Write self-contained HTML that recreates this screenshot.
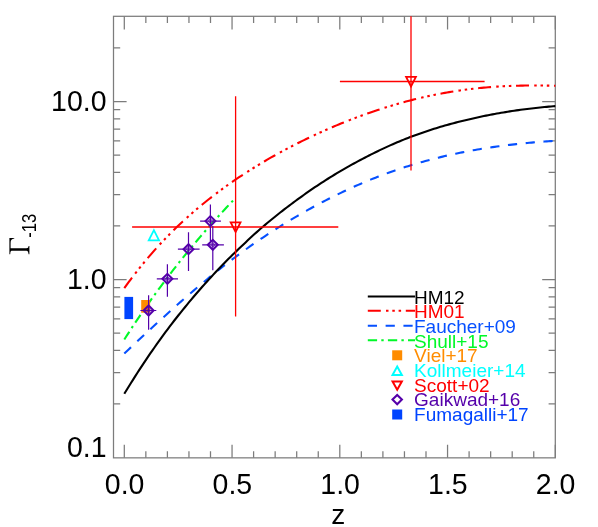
<!DOCTYPE html>
<html><head><meta charset="utf-8"><style>
html,body{margin:0;padding:0;background:#fff;}
svg{display:block;font-family:"Liberation Sans",sans-serif;will-change:transform;}
</style></head><body>
<svg width="598" height="527" viewBox="0 0 598 527">
<rect width="598" height="527" fill="#fff"/>
<rect x="113.5" y="16.3" width="441.79999999999995" height="441.55" fill="none" stroke="#7c7c7c" stroke-width="1.25"/>
<path d="M124.30,457.85 v-13.1 M124.30,16.3 v13.1 M145.85,457.85 v-6.7 M145.85,16.3 v6.7 M167.40,457.85 v-6.7 M167.40,16.3 v6.7 M188.95,457.85 v-6.7 M188.95,16.3 v6.7 M210.50,457.85 v-6.7 M210.50,16.3 v6.7 M232.05,457.85 v-13.1 M232.05,16.3 v13.1 M253.60,457.85 v-6.7 M253.60,16.3 v6.7 M275.15,457.85 v-6.7 M275.15,16.3 v6.7 M296.70,457.85 v-6.7 M296.70,16.3 v6.7 M318.25,457.85 v-6.7 M318.25,16.3 v6.7 M339.80,457.85 v-13.1 M339.80,16.3 v13.1 M361.35,457.85 v-6.7 M361.35,16.3 v6.7 M382.90,457.85 v-6.7 M382.90,16.3 v6.7 M404.45,457.85 v-6.7 M404.45,16.3 v6.7 M426.00,457.85 v-6.7 M426.00,16.3 v6.7 M447.55,457.85 v-13.1 M447.55,16.3 v13.1 M469.10,457.85 v-6.7 M469.10,16.3 v6.7 M490.65,457.85 v-6.7 M490.65,16.3 v6.7 M512.20,457.85 v-6.7 M512.20,16.3 v6.7 M533.75,457.85 v-6.7 M533.75,16.3 v6.7 M555.30,457.85 v-13.1 M555.30,16.3 v13.1 M113.5,403.92 h6.7 M555.3,403.92 h-6.7 M113.5,372.57 h6.7 M555.3,372.57 h-6.7 M113.5,350.33 h6.7 M555.3,350.33 h-6.7 M113.5,333.08 h6.7 M555.3,333.08 h-6.7 M113.5,318.99 h6.7 M555.3,318.99 h-6.7 M113.5,307.07 h6.7 M555.3,307.07 h-6.7 M113.5,296.75 h6.7 M555.3,296.75 h-6.7 M113.5,287.64 h6.7 M555.3,287.64 h-6.7 M113.5,279.50 h13.1 M555.3,279.50 h-13.1 M113.5,225.92 h6.7 M555.3,225.92 h-6.7 M113.5,194.57 h6.7 M555.3,194.57 h-6.7 M113.5,172.33 h6.7 M555.3,172.33 h-6.7 M113.5,155.08 h6.7 M555.3,155.08 h-6.7 M113.5,140.99 h6.7 M555.3,140.99 h-6.7 M113.5,129.07 h6.7 M555.3,129.07 h-6.7 M113.5,118.75 h6.7 M555.3,118.75 h-6.7 M113.5,109.64 h6.7 M555.3,109.64 h-6.7 M113.5,101.50 h13.1 M555.3,101.50 h-13.1 M113.5,47.92 h6.7 M555.3,47.92 h-6.7" stroke="#7c7c7c" stroke-width="1.25" fill="none"/>
<path d="M124.30,339.53 L126.53,336.03 L128.75,332.58 L130.98,329.15 L133.20,325.76 L135.43,322.41 L137.65,319.08 L139.88,315.79 L142.10,312.53 L144.33,309.30 L146.55,306.10 L148.78,302.93 L151.00,299.79 L153.23,296.68 L155.46,293.60 L157.68,290.54 L159.91,287.52 L162.13,284.52 L164.36,281.54 L166.58,278.59 L168.81,275.67 L171.03,272.77 L173.26,269.90 L175.48,267.04 L177.71,264.22 L179.93,261.42 L182.16,258.63 L184.38,255.88 L186.61,253.14 L188.84,250.43 L191.06,247.74 L193.29,245.06 L195.51,242.41 L197.74,239.78 L199.96,237.17 L202.19,234.58 L204.41,232.01 L206.64,229.46 L208.86,226.93 L211.09,224.42 L213.31,221.92 L215.54,219.45 L217.77,216.99 L219.99,214.55 L222.22,212.12 L224.44,209.72 L226.67,207.33 L228.89,204.95 L231.12,202.60 L233.34,200.26" stroke="#00f828" stroke-width="2.1" fill="none" stroke-dasharray="9.3 4.2 2.4 4.2"/>
<path d="M124.30,353.49 L126.47,351.45 L128.63,349.42 L130.80,347.39 L132.96,345.36 L135.13,343.34 L137.29,341.32 L139.46,339.30 L141.63,337.28 L143.79,335.27 L145.96,333.26 L148.12,331.26 L150.29,329.26 L152.46,327.27 L154.62,325.28 L156.79,323.30 L158.95,321.32 L161.12,319.35 L163.28,317.38 L165.45,315.42 L167.62,313.46 L169.78,311.52 L171.95,309.58 L174.11,307.64 L176.28,305.72 L178.45,303.80 L180.61,301.89 L182.78,299.99 L184.94,298.10 L187.11,296.21 L189.27,294.34 L191.44,292.47 L193.61,290.62 L195.77,288.77 L197.94,286.93 L200.10,285.11 L202.27,283.29 L204.44,281.48 L206.60,279.69 L208.77,277.91 L210.93,276.14 L213.10,274.38 L215.26,272.63 L217.43,270.89 L219.60,269.17 L221.76,267.46 L223.93,265.76 L226.09,264.08 L228.26,262.41 L230.43,260.75 L232.59,259.11 L234.76,257.48 L236.92,255.86 L239.09,254.26 L241.25,252.67 L243.42,251.10 L245.59,249.54 L247.75,247.99 L249.92,246.46 L252.08,244.94 L254.25,243.43 L256.42,241.94 L258.58,240.46 L260.75,238.99 L262.91,237.53 L265.08,236.09 L267.24,234.66 L269.41,233.24 L271.58,231.83 L273.74,230.44 L275.91,229.06 L278.07,227.68 L280.24,226.33 L282.41,224.98 L284.57,223.64 L286.74,222.31 L288.90,221.00 L291.07,219.70 L293.23,218.41 L295.40,217.12 L297.57,215.85 L299.73,214.60 L301.90,213.35 L304.06,212.11 L306.23,210.89 L308.40,209.67 L310.56,208.47 L312.73,207.28 L314.89,206.10 L317.06,204.93 L319.22,203.78 L321.39,202.63 L323.56,201.50 L325.72,200.37 L327.89,199.26 L330.05,198.16 L332.22,197.07 L334.39,195.99 L336.55,194.92 L338.72,193.87 L340.88,192.82 L343.05,191.79 L345.21,190.77 L347.38,189.76 L349.55,188.76 L351.71,187.77 L353.88,186.80 L356.04,185.83 L358.21,184.88 L360.38,183.94 L362.54,183.01 L364.71,182.09 L366.87,181.18 L369.04,180.29 L371.20,179.40 L373.37,178.53 L375.54,177.67 L377.70,176.82 L379.87,175.98 L382.03,175.16 L384.20,174.34 L386.37,173.54 L388.53,172.75 L390.70,171.97 L392.86,171.20 L395.03,170.45 L397.19,169.70 L399.36,168.97 L401.53,168.25 L403.69,167.54 L405.86,166.84 L408.02,166.15 L410.19,165.47 L412.36,164.81 L414.52,164.15 L416.69,163.51 L418.85,162.88 L421.02,162.26 L423.18,161.64 L425.35,161.04 L427.52,160.45 L429.68,159.87 L431.85,159.30 L434.01,158.74 L436.18,158.19 L438.35,157.65 L440.51,157.13 L442.68,156.61 L444.84,156.09 L447.01,155.59 L449.17,155.10 L451.34,154.62 L453.51,154.15 L455.67,153.69 L457.84,153.23 L460.00,152.79 L462.17,152.35 L464.34,151.93 L466.50,151.51 L468.67,151.10 L470.83,150.70 L473.00,150.31 L475.16,149.92 L477.33,149.55 L479.50,149.18 L481.66,148.82 L483.83,148.47 L485.99,148.13 L488.16,147.79 L490.33,147.47 L492.49,147.15 L494.66,146.84 L496.82,146.53 L498.99,146.23 L501.15,145.95 L503.32,145.66 L505.49,145.39 L507.65,145.12 L509.82,144.86 L511.98,144.60 L514.15,144.36 L516.32,144.12 L518.48,143.88 L520.65,143.65 L522.81,143.43 L524.98,143.22 L527.14,143.01 L529.31,142.81 L531.48,142.61 L533.64,142.42 L535.81,142.24 L537.97,142.06 L540.14,141.88 L542.31,141.72 L544.47,141.55 L546.64,141.40 L548.80,141.25 L550.97,141.10 L553.13,140.96 L555.30,140.82" stroke="#0650ff" stroke-width="2.1" fill="none" stroke-dasharray="9.2 8.62"/>
<path d="M124.30,288.16 L126.47,285.16 L128.63,282.20 L130.80,279.29 L132.96,276.43 L135.13,273.61 L137.29,270.84 L139.46,268.11 L141.63,265.43 L143.79,262.79 L145.96,260.18 L148.12,257.62 L150.29,255.10 L152.46,252.62 L154.62,250.17 L156.79,247.76 L158.95,245.39 L161.12,243.05 L163.28,240.75 L165.45,238.48 L167.62,236.25 L169.78,234.04 L171.95,231.87 L174.11,229.73 L176.28,227.62 L178.45,225.55 L180.61,223.50 L182.78,221.48 L184.94,219.48 L187.11,217.52 L189.27,215.58 L191.44,213.67 L193.61,211.78 L195.77,209.92 L197.94,208.08 L200.10,206.27 L202.27,204.48 L204.44,202.71 L206.60,200.97 L208.77,199.25 L210.93,197.55 L213.10,195.87 L215.26,194.21 L217.43,192.57 L219.60,190.96 L221.76,189.36 L223.93,187.78 L226.09,186.22 L228.26,184.68 L230.43,183.15 L232.59,181.65 L234.76,180.16 L236.92,178.69 L239.09,177.23 L241.25,175.79 L243.42,174.37 L245.59,172.96 L247.75,171.57 L249.92,170.20 L252.08,168.84 L254.25,167.49 L256.42,166.16 L258.58,164.84 L260.75,163.53 L262.91,162.24 L265.08,160.97 L267.24,159.70 L269.41,158.45 L271.58,157.21 L273.74,155.99 L275.91,154.78 L278.07,153.57 L280.24,152.39 L282.41,151.21 L284.57,150.05 L286.74,148.89 L288.90,147.75 L291.07,146.62 L293.23,145.50 L295.40,144.40 L297.57,143.30 L299.73,142.22 L301.90,141.14 L304.06,140.08 L306.23,139.03 L308.40,137.98 L310.56,136.95 L312.73,135.93 L314.89,134.92 L317.06,133.92 L319.22,132.93 L321.39,131.95 L323.56,130.98 L325.72,130.02 L327.89,129.07 L330.05,128.13 L332.22,127.20 L334.39,126.28 L336.55,125.38 L338.72,124.48 L340.88,123.59 L343.05,122.71 L345.21,121.84 L347.38,120.98 L349.55,120.13 L351.71,119.29 L353.88,118.46 L356.04,117.64 L358.21,116.83 L360.38,116.03 L362.54,115.24 L364.71,114.46 L366.87,113.69 L369.04,112.93 L371.20,112.18 L373.37,111.44 L375.54,110.72 L377.70,110.00 L379.87,109.29 L382.03,108.59 L384.20,107.90 L386.37,107.22 L388.53,106.55 L390.70,105.90 L392.86,105.25 L395.03,104.61 L397.19,103.98 L399.36,103.37 L401.53,102.76 L403.69,102.17 L405.86,101.58 L408.02,101.01 L410.19,100.44 L412.36,99.89 L414.52,99.35 L416.69,98.81 L418.85,98.29 L421.02,97.78 L423.18,97.28 L425.35,96.79 L427.52,96.32 L429.68,95.85 L431.85,95.39 L434.01,94.94 L436.18,94.51 L438.35,94.08 L440.51,93.67 L442.68,93.27 L444.84,92.87 L447.01,92.49 L449.17,92.12 L451.34,91.76 L453.51,91.41 L455.67,91.08 L457.84,90.75 L460.00,90.43 L462.17,90.12 L464.34,89.83 L466.50,89.54 L468.67,89.27 L470.83,89.00 L473.00,88.75 L475.16,88.51 L477.33,88.27 L479.50,88.05 L481.66,87.84 L483.83,87.64 L485.99,87.44 L488.16,87.26 L490.33,87.09 L492.49,86.93 L494.66,86.77 L496.82,86.63 L498.99,86.50 L501.15,86.37 L503.32,86.25 L505.49,86.15 L507.65,86.05 L509.82,85.96 L511.98,85.88 L514.15,85.81 L516.32,85.75 L518.48,85.69 L520.65,85.64 L522.81,85.60 L524.98,85.57 L527.14,85.54 L529.31,85.52 L531.48,85.51 L533.64,85.51 L535.81,85.51 L537.97,85.52 L540.14,85.53 L542.31,85.55 L544.47,85.57 L546.64,85.60 L548.80,85.64 L550.97,85.68 L553.13,85.72 L555.30,85.76" stroke="#ff0000" stroke-width="2.1" fill="none" stroke-dasharray="13 5.2 2.5 3.8 2.5 3.8 2.5 4.7"/>
<path d="M124.30,393.79 L126.47,390.27 L128.63,386.77 L130.80,383.30 L132.96,379.85 L135.13,376.43 L137.29,373.04 L139.46,369.68 L141.63,366.36 L143.79,363.07 L145.96,359.83 L148.12,356.62 L150.29,353.46 L152.46,350.33 L154.62,347.23 L156.79,344.17 L158.95,341.13 L161.12,338.11 L163.28,335.13 L165.45,332.18 L167.62,329.26 L169.78,326.39 L171.95,323.56 L174.11,320.76 L176.28,318.00 L178.45,315.27 L180.61,312.57 L182.78,309.89 L184.94,307.22 L187.11,304.58 L189.27,301.95 L191.44,299.35 L193.61,296.78 L195.77,294.24 L197.94,291.73 L200.10,289.26 L202.27,286.81 L204.44,284.39 L206.60,281.98 L208.77,279.60 L210.93,277.23 L213.10,274.87 L215.26,272.53 L217.43,270.21 L219.60,267.91 L221.76,265.64 L223.93,263.41 L226.09,261.21 L228.26,259.04 L230.43,256.91 L232.59,254.80 L234.76,252.71 L236.92,250.63 L239.09,248.57 L241.25,246.51 L243.42,244.45 L245.59,242.40 L247.75,240.35 L249.92,238.33 L252.08,236.32 L254.25,234.33 L256.42,232.37 L258.58,230.45 L260.75,228.55 L262.91,226.68 L265.08,224.84 L267.24,223.03 L269.41,221.23 L271.58,219.46 L273.74,217.70 L275.91,215.97 L278.07,214.24 L280.24,212.54 L282.41,210.84 L284.57,209.17 L286.74,207.51 L288.90,205.86 L291.07,204.23 L293.23,202.61 L295.40,201.01 L297.57,199.42 L299.73,197.85 L301.90,196.29 L304.06,194.74 L306.23,193.21 L308.40,191.70 L310.56,190.20 L312.73,188.71 L314.89,187.24 L317.06,185.79 L319.22,184.35 L321.39,182.92 L323.56,181.52 L325.72,180.13 L327.89,178.75 L330.05,177.39 L332.22,176.05 L334.39,174.73 L336.55,173.42 L338.72,172.13 L340.88,170.85 L343.05,169.59 L345.21,168.34 L347.38,167.11 L349.55,165.89 L351.71,164.69 L353.88,163.50 L356.04,162.32 L358.21,161.15 L360.38,160.00 L362.54,158.86 L364.71,157.73 L366.87,156.62 L369.04,155.51 L371.20,154.42 L373.37,153.34 L375.54,152.27 L377.70,151.21 L379.87,150.17 L382.03,149.14 L384.20,148.12 L386.37,147.12 L388.53,146.13 L390.70,145.15 L392.86,144.20 L395.03,143.25 L397.19,142.33 L399.36,141.41 L401.53,140.52 L403.69,139.64 L405.86,138.78 L408.02,137.93 L410.19,137.10 L412.36,136.28 L414.52,135.47 L416.69,134.68 L418.85,133.91 L421.02,133.14 L423.18,132.39 L425.35,131.66 L427.52,130.93 L429.68,130.22 L431.85,129.53 L434.01,128.84 L436.18,128.17 L438.35,127.51 L440.51,126.86 L442.68,126.22 L444.84,125.59 L447.01,124.98 L449.17,124.37 L451.34,123.78 L453.51,123.20 L455.67,122.62 L457.84,122.06 L460.00,121.51 L462.17,120.97 L464.34,120.44 L466.50,119.92 L468.67,119.40 L470.83,118.90 L473.00,118.41 L475.16,117.93 L477.33,117.45 L479.50,116.99 L481.66,116.53 L483.83,116.08 L485.99,115.65 L488.16,115.22 L490.33,114.79 L492.49,114.38 L494.66,113.98 L496.82,113.58 L498.99,113.20 L501.15,112.82 L503.32,112.45 L505.49,112.09 L507.65,111.74 L509.82,111.39 L511.98,111.05 L514.15,110.73 L516.32,110.41 L518.48,110.10 L520.65,109.80 L522.81,109.50 L524.98,109.22 L527.14,108.94 L529.31,108.67 L531.48,108.42 L533.64,108.17 L535.81,107.92 L537.97,107.69 L540.14,107.47 L542.31,107.25 L544.47,107.05 L546.64,106.85 L548.80,106.66 L550.97,106.48 L553.13,106.31 L555.30,106.15" stroke="#000" stroke-width="2.1" fill="none"/>
<rect x="124.4" y="296.9" width="8.7" height="22.2" fill="#0044ff"/>
<rect x="141.2" y="300.0" width="8.9" height="12.7" fill="#ff8c00"/>
<path d="M132.1,227 H338.3 M235.6,96.3 V316.5 M339.9,81.5 H484.6 M411,16.3 V170.4" stroke="#ff0000" stroke-width="1.3" fill="none"/>
<path d="M230.70,222.40 L240.50,222.40 L235.60,232.00 Z" fill="none" stroke="#ff0000" stroke-width="1.8" stroke-linejoin="miter"/>
<path d="M406.10,76.90 L415.90,76.90 L411.00,86.50 Z" fill="none" stroke="#ff0000" stroke-width="1.8" stroke-linejoin="miter"/>
<path d="M148.75,240.40 L159.05,240.40 L153.90,230.20 Z" fill="none" stroke="#00ffff" stroke-width="1.8" stroke-linejoin="miter"/>
<path d="M140.4,310.5 H156.3 M148.6,295.2 V329.8" stroke="#5500aa" stroke-width="1.2" fill="none"/>
<circle cx="148.6" cy="310.5" r="1.8" fill="none" stroke="#5500aa" stroke-width="0.7"/>
<path d="M143.60,310.50 L148.60,305.50 L153.60,310.50 L148.60,315.50 Z" fill="none" stroke="#5500aa" stroke-width="2.0" stroke-linejoin="miter"/>
<path d="M156.8,278.8 H178.0 M167.4,264.3 V296.7" stroke="#5500aa" stroke-width="1.2" fill="none"/>
<circle cx="167.4" cy="278.8" r="1.8" fill="none" stroke="#5500aa" stroke-width="0.7"/>
<path d="M162.40,278.80 L167.40,273.80 L172.40,278.80 L167.40,283.80 Z" fill="none" stroke="#5500aa" stroke-width="2.0" stroke-linejoin="miter"/>
<path d="M177.9,249.2 H199.6 M188.5,232.2 V270.9" stroke="#5500aa" stroke-width="1.2" fill="none"/>
<circle cx="188.5" cy="249.2" r="1.8" fill="none" stroke="#5500aa" stroke-width="0.7"/>
<path d="M183.50,249.20 L188.50,244.20 L193.50,249.20 L188.50,254.20 Z" fill="none" stroke="#5500aa" stroke-width="2.0" stroke-linejoin="miter"/>
<path d="M202.2,244.8 H223.9 M212.8,226.0 V270.2" stroke="#5500aa" stroke-width="1.2" fill="none"/>
<circle cx="212.8" cy="244.8" r="1.8" fill="none" stroke="#5500aa" stroke-width="0.7"/>
<path d="M207.80,244.80 L212.80,239.80 L217.80,244.80 L212.80,249.80 Z" fill="none" stroke="#5500aa" stroke-width="2.0" stroke-linejoin="miter"/>
<path d="M200.1,221.1 H220.9 M210.4,204.4 V241.0" stroke="#5500aa" stroke-width="1.2" fill="none"/>
<circle cx="210.4" cy="221.1" r="1.8" fill="none" stroke="#5500aa" stroke-width="0.7"/>
<path d="M205.40,221.10 L210.40,216.10 L215.40,221.10 L210.40,226.10 Z" fill="none" stroke="#5500aa" stroke-width="2.0" stroke-linejoin="miter"/>
<path d="M367.8,296.5 H415.1" stroke="#000" stroke-width="2.1"/>
<text x="414.0" y="303.7" font-size="19.0" fill="#000">HM12</text>
<path d="M367.8,310.8 H415.1" stroke="#ff0000" stroke-width="2.1" stroke-dasharray="13 5.2 2.5 3.8 2.5 3.8 2.5 4.7"/>
<text x="414.0" y="318.4" font-size="19.0" fill="#ff0000">HM01</text>
<path d="M367.8,325.8 H415.1" stroke="#0650ff" stroke-width="2.1" stroke-dasharray="9.2 8.62"/>
<text x="414.0" y="333.2" font-size="19.0" fill="#0650ff">Faucher+09</text>
<path d="M367.8,340.3 H415.1" stroke="#00f828" stroke-width="2.1" stroke-dasharray="9.3 4.2 2.4 4.2"/>
<text x="414.0" y="347.8" font-size="19.0" fill="#00f828">Shull+15</text>
<rect x="392.2" y="350.3" width="10" height="10" fill="#ff8c00"/>
<text x="414.1" y="362.2" font-size="19.0" fill="#ff8c00">Viel+17</text>
<path d="M392.55,374.90 L401.85,374.90 L397.20,366.50 Z" fill="none" stroke="#00ffff" stroke-width="2.0" stroke-linejoin="miter"/>
<text x="414.1" y="376.9" font-size="19.0" fill="#00ffff">Kollmeier+14</text>
<path d="M392.55,381.40 L401.85,381.40 L397.20,389.80 Z" fill="none" stroke="#ff0000" stroke-width="2.0" stroke-linejoin="miter"/>
<text x="414.1" y="391.6" font-size="19.0" fill="#ff0000">Scott+02</text>
<path d="M392.50,399.60 L397.20,394.90 L401.90,399.60 L397.20,404.30 Z" fill="none" stroke="#5500aa" stroke-width="2.1" stroke-linejoin="miter"/>
<text x="414.1" y="406.3" font-size="19.0" fill="#5500aa">Gaikwad+16</text>
<rect x="392.2" y="409.5" width="10" height="10" fill="#0044ff"/>
<text x="414.1" y="420.8" font-size="19.0" fill="#0044ff">Fumagalli+17</text>
<text transform="translate(106.5,110.6) scale(1,1.055)" font-size="28.5" text-anchor="end" fill="#000">10.0</text>
<text transform="translate(106.5,289.0) scale(1,1.055)" font-size="28.5" text-anchor="end" fill="#000">1.0</text>
<text transform="translate(106.5,457.3) scale(1,1.055)" font-size="28.5" text-anchor="end" fill="#000">0.1</text>
<text transform="translate(124.60,493.8) scale(1,1.055)" font-size="28.5" text-anchor="middle" fill="#000">0.0</text>
<text transform="translate(232.35,493.8) scale(1,1.055)" font-size="28.5" text-anchor="middle" fill="#000">0.5</text>
<text transform="translate(340.10,493.8) scale(1,1.055)" font-size="28.5" text-anchor="middle" fill="#000">1.0</text>
<text transform="translate(447.85,493.8) scale(1,1.055)" font-size="28.5" text-anchor="middle" fill="#000">1.5</text>
<text transform="translate(555.60,493.8) scale(1,1.055)" font-size="28.5" text-anchor="middle" fill="#000">2.0</text>
<text x="338.2" y="523.8" font-size="28" text-anchor="middle" fill="#000">z</text>
<g transform="translate(29.4,254.2) rotate(-90)"><path d="M0,-20 H16.2 V-15.1 H15.6 C15.2,-17.7 14.0,-18.8 11.3,-18.8 H6.05 V-3 C6.05,-1.5 6.5,-1.0 8.1,-0.8 V0 H0 V-0.8 C1.6,-1.0 3.35,-1.5 3.35,-3 V-17 C3.35,-18.5 2.9,-19.0 0,-19.2 Z" fill="#000"/><g transform="translate(16.5,6.7) scale(0.86,1)"><text x="0" y="0" font-size="19.3" fill="#000">-13</text></g></g>
</svg>
</body></html>
